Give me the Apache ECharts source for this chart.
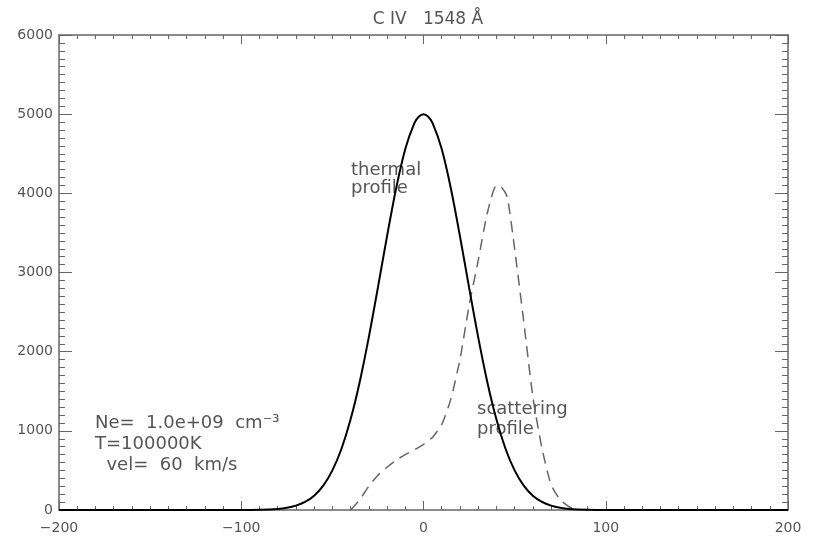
<!DOCTYPE html>
<html>
<head>
<meta charset="utf-8">
<script src="https://cdn.jsdelivr.net/npm/echarts@6/dist/echarts.min.js"></script>
<style>html,body{margin:0;padding:0;background:#fff;}#c{width:817px;height:539px;}</style>
</head>
<body>
<div id="c"></div>
<script>
// Thermal profile (solid)
const thermalX = [-200, -100, -90, -80, -75, -70, -65, -60, -55, -50, -45, -40, -35, -30, -25, -20, -15, -10, -5, -2.5, 0, 2.5, 5, 10, 15, 20, 25, 30, 35, 40, 45, 50, 55, 60, 65, 70, 75, 80, 90, 100, 200];
const thermalY = [0, 0, 3, 14, 28, 55, 102, 181, 308, 500, 774, 1146, 1618, 2183, 2812, 3459, 4064, 4560, 4886, 4971, 5000, 4971, 4886, 4560, 4064, 3459, 2812, 2183, 1618, 1146, 774, 500, 308, 181, 102, 55, 28, 14, 3, 0, 0];
// Scattering profile (dashed)
const scatterX = [-40, -35, -30, -25, -20, -15, -10, -5, 0, 5, 10, 15, 20, 25, 30, 35, 40, 43, 46, 50, 55, 60, 65, 70, 75, 80, 85];
const scatterY = [0, 130, 300, 440, 540, 630, 700, 760, 830, 920, 1080, 1400, 1900, 2580, 3150, 3750, 4100, 4070, 3950, 3300, 2380, 1430, 780, 320, 130, 40, 0];
const xTicks = [-200, -100, 0, 100, 200];
const yTicks = [0, 1000, 2000, 3000, 4000, 5000, 6000];

const thermal = thermalX.map((x, i) => [x, thermalY[i]]);
const scatter = scatterX.map((x, i) => [x, scatterY[i]]);

const FONT = 'DejaVu Sans';
const TXT = '#555';
const AX = '#666';

function xAxisCfg(pos, labels) {
  return {
    type: 'value', position: pos, min: xTicks[0], max: xTicks[xTicks.length - 1], interval: 100,
    axisLine: { show: true, onZero: false, lineStyle: { color: AX, width: 1.5 } },
    axisTick: { show: true, inside: true, length: 9, lineStyle: { color: AX, width: 1 } },
    minorTick: { show: true, splitNumber: 10, length: 4, lineStyle: { color: AX, width: 1 } },
    splitLine: { show: false },
    axisLabel: { show: labels, margin: 11, color: TXT, fontFamily: FONT, fontSize: 14,
      formatter: v => String(v).replace('-', '\u2212') }
  };
}
function yAxisCfg(pos, labels) {
  return {
    type: 'value', position: pos, min: yTicks[0], max: yTicks[yTicks.length - 1], interval: 1000,
    axisLine: { show: true, onZero: false, lineStyle: { color: AX, width: 1.5 } },
    axisTick: { show: true, inside: true, length: 13, lineStyle: { color: AX, width: 1 } },
    minorTick: { show: true, splitNumber: 10, length: 6, lineStyle: { color: AX, width: 1 } },
    splitLine: { show: false },
    axisLabel: { show: labels, margin: 6, color: TXT, fontFamily: FONT, fontSize: 14,
      formatter: v => String(v) }
  };
}

const chart = echarts.init(document.getElementById('c'), null, { renderer: 'canvas' });
chart.setOption({
  animation: false,
  backgroundColor: '#fff',
  title: {
    text: 'C IV   1548 \u00C5', left: 423, top: 6, textAlign: 'center',
    textStyle: { color: TXT, fontFamily: FONT, fontSize: 17, fontWeight: 'normal' }
  },
  grid: { left: 59, right: 29, top: 35, bottom: 29, containLabel: false },
  xAxis: [xAxisCfg('bottom', true), xAxisCfg('top', false)],
  yAxis: [yAxisCfg('left', true), yAxisCfg('right', false)],
  series: [
    {
      type: 'line', xAxisIndex: 0, yAxisIndex: 0, data: scatter, showSymbol: false, smooth: 0.2,
      lineStyle: { color: '#666', width: 1.5, type: [11, 7] }, z: 3
    },
    {
      type: 'line', xAxisIndex: 0, yAxisIndex: 0, data: thermal, showSymbol: false, smooth: 0.3,
      lineStyle: { color: '#000', width: 2 }, z: 4
    }
  ],
  graphic: [
    { type: 'text', left: 351, top: 161, style: { text: 'thermal\nprofile', lineHeight: 18, fill: TXT, font: '18px "DejaVu Sans"' } },
    { type: 'text', left: 477, top: 399, style: { text: 'scattering\nprofile', lineHeight: 20, fill: TXT, font: '18px "DejaVu Sans"' } },
    { type: 'text', left: 95, top: 413, style: { text: 'Ne=  1.0e+09  cm\u207B\u00B3\nT=100000K\n  vel=  60  km/s', lineHeight: 21, fill: TXT, font: '18px "DejaVu Sans"' } }
  ]
});
</script>
</body>
</html>
